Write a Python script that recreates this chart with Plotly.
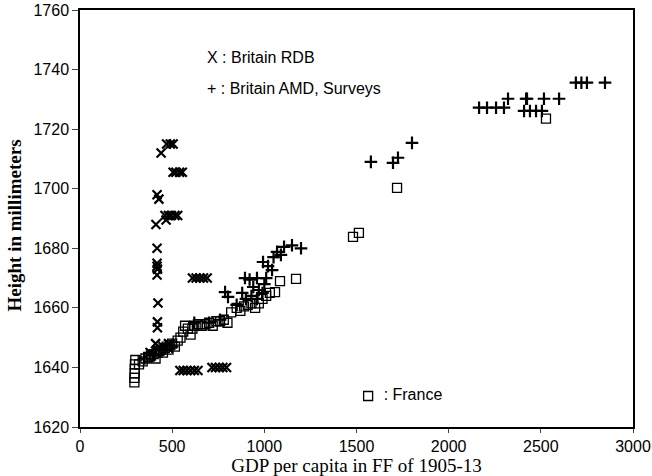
"""Height vs GDP per capita scatter: Britain RDB, Britain AMD/Surveys, France."""
import plotly.graph_objects as go

# Britain RDB (X markers)
rdb_gdp = [470, 490, 505, 440,
           505, 520, 540, 555,
           418, 428,
           461, 480, 495, 515, 530, 467, 412,
           418,
           418, 418, 420, 418,
           610, 630, 650, 670, 690,
           423, 420, 420, 410,
           380, 420, 450, 480,
           542, 560, 580, 600, 620, 640,
           716, 735, 755, 775, 795]
rdb_height = [1715, 1715, 1715, 1712,
              1705.5, 1705.5, 1705.5, 1705.5,
              1698, 1696.5,
              1691, 1691, 1691, 1691, 1691, 1689.5, 1688,
              1680,
              1675, 1674, 1673, 1671,
              1670, 1670, 1670, 1670, 1670,
              1661.6, 1655.3, 1653.3, 1648,
              1645, 1646, 1647, 1648,
              1639, 1639, 1639, 1639, 1639, 1639,
              1640, 1640, 1640, 1640, 1640]

# Britain AMD, Surveys (+ markers)
amd_gdp = [2690, 2720, 2750, 2848,
           2322, 2420, 2425, 2517, 2599,
           2165, 2208, 2257, 2300,
           2409, 2441, 2474, 2506,
           1578, 1698, 1725, 1801,
           1107, 1150, 1199, 1069, 1090, 1050, 1020, 993, 1042,
           787, 803, 895, 920, 960, 940, 970, 1000, 880, 900, 930, 960, 990, 1010,
           620, 700, 760, 850, 500, 450, 400, 350]
amd_height = [1735.6, 1735.6, 1735.6, 1735.6,
              1730.2, 1730.2, 1730.2, 1730.2, 1730.2,
              1727.2, 1727.2, 1727.2, 1727.2,
              1726.1, 1726.1, 1726.1, 1726.1,
              1709, 1708.7, 1710.4, 1715.4,
              1680.5, 1681, 1680, 1678.8, 1677.8, 1677, 1674, 1675.4, 1672.7,
              1665.3, 1663.7, 1670, 1669.5, 1670, 1667, 1666, 1668, 1665, 1663, 1664, 1663, 1665, 1670,
              1655, 1655, 1656, 1661, 1647, 1646, 1644, 1643]

# France (open squares)
fr_gdp = [295, 295, 297, 297, 298, 300,
          320, 340, 355, 370, 385, 400, 410, 420, 430, 440, 450, 460, 470, 480, 490, 500, 515, 530, 545,
          560, 570, 585, 600, 610, 620, 640, 660, 680, 700, 720, 740, 760, 780, 800,
          820, 850, 870, 890, 910, 930, 950, 970, 990, 1010, 1030, 1058, 1085, 1172,
          1481, 1513, 1720, 2528]
fr_height = [1635, 1636.5, 1638, 1639.5, 1641, 1642.5,
             1641, 1642, 1643, 1643.5, 1644, 1644.5, 1643, 1645, 1645.5, 1646, 1645, 1646.5, 1647, 1646, 1647.5, 1648, 1647, 1649, 1650,
             1652, 1654, 1653, 1651, 1653, 1654, 1654.5, 1654, 1654.5, 1655, 1654, 1655.5, 1655.5, 1656, 1655,
             1658.5, 1660, 1659, 1660.5, 1661, 1661.5, 1660, 1661.5, 1663, 1664, 1665, 1665.3, 1669, 1669.7,
             1683.8, 1685.2, 1700.3, 1723.5]

# key entry drawn in the plot for France
fr_key_gdp = [1563]
fr_key_height = [1630.4]

x_ticks = [0, 500, 1000, 1500, 2000, 2500, 3000]
y_ticks = [1620, 1640, 1660, 1680, 1700, 1720, 1740, 1760]

sans = "Liberation Sans, Arial, sans-serif"
serif = "Liberation Serif, Times New Roman, serif"

fig = go.Figure()
fig.add_trace(go.Scatter(x=fr_gdp, y=fr_height, mode='markers',
                         marker=dict(symbol='square-open', size=9, color='black',
                                     line=dict(width=1.3))))
fig.add_trace(go.Scatter(x=rdb_gdp, y=rdb_height, mode='markers',
                         marker=dict(symbol='x-thin-open', size=9, color='black',
                                     line=dict(width=2.2, color='black'))))
fig.add_trace(go.Scatter(x=amd_gdp, y=amd_height, mode='markers',
                         marker=dict(symbol='cross-thin-open', size=9, color='black',
                                     line=dict(width=2.2, color='black'))))
fig.add_trace(go.Scatter(x=fr_key_gdp, y=fr_key_height, mode='markers+text',
                         text=['  : France'], textposition='middle right',
                         textfont=dict(family=sans, size=16, color='black'),
                         marker=dict(symbol='square-open', size=9, color='black',
                                     line=dict(width=1.3))))

fig.add_annotation(x=678, y=1744, text='X : Britain RDB', showarrow=False,
                   xanchor='left', font=dict(family=sans, size=16, color='black'))
fig.add_annotation(x=678, y=1733.5, text='+ : Britain AMD, Surveys', showarrow=False,
                   xanchor='left', font=dict(family=sans, size=16, color='black'))

# y title as an annotation so it can sit close to the page edge
fig.add_annotation(x=0, y=0.5, xref='paper', yref='paper', xshift=-66, yshift=-7,
                   xanchor='center', yanchor='middle',
                   text='<b>Height in millimeters</b>', textangle=-90, showarrow=False,
                   font=dict(family=serif, size=19, color='black'))

fig.update_xaxes(range=[0, 3000], tickvals=x_ticks, ticks='outside', ticklen=4,
                 showline=True, linecolor='black', linewidth=1.5, mirror=True,
                 showgrid=False, zeroline=False, automargin=False,
                 tickfont=dict(family=sans, size=16, color='black'),
                 title=dict(text='GDP per capita in FF of 1905-13', standoff=0,
                            font=dict(family=serif, size=19, color='black')))
fig.update_yaxes(range=[1620, 1760], tickvals=y_ticks, ticks='outside', ticklen=6,
                 showline=True, linecolor='black', linewidth=1.5, mirror=True,
                 showgrid=False, zeroline=False, automargin=False,
                 tickfont=dict(family=sans, size=16, color='black'))

fig.update_layout(width=652, height=476, showlegend=False,
                  plot_bgcolor='white', paper_bgcolor='white',
                  margin=dict(l=80, r=19, t=10, b=49))

# drop the page's default body margin so the figure fills the window
fig.write_html("out.html", config={'displayModeBar': False},
               post_script="document.body.style.margin='0px';")
